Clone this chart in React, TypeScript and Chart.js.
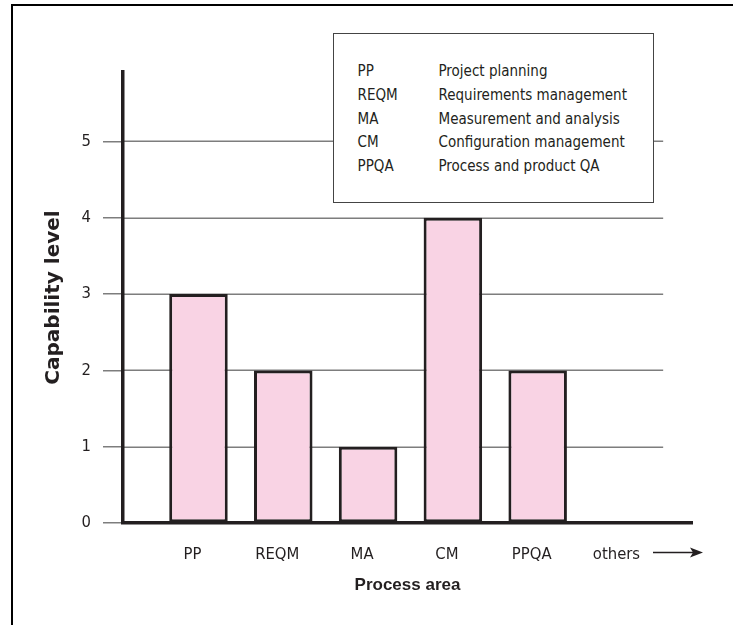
import React, { useEffect, useRef } from "react";
import { Chart, registerables } from "chart.js";

Chart.register(...registerables);

// ---- data ----
const categories = ["PP", "REQM", "MA", "CM", "PPQA", "others"];
const capabilityLevels = [3, 2, 1, 4, 2];
const yTickValues = [0, 1, 2, 3, 4, 5];
const legendAbbrevs = ["PP", "REQM", "MA", "CM", "PPQA"];
const legendNames = [
  "Project planning",
  "Requirements management",
  "Measurement and analysis",
  "Configuration management",
  "Process and product QA",
];

// ---- style ----
const DARK = "#231f20";
const PINK = "#f9d3e4";
const GRID = "#7d7d7d";
const NARROW = "'Liberation Sans Narrow', 'DejaVu Sans Condensed', 'Arial Narrow', sans-serif";
const GRID_END_VALUE = 6.48;

const decorPlugin = {
  id: "decor",
  beforeDatasetsDraw(chart: any) {
    const { ctx, chartArea, scales } = chart;
    const xs = scales.x;
    const ys = scales.y;
    const end = xs.getPixelForValue(GRID_END_VALUE);
    ctx.save();
    ctx.strokeStyle = GRID;
    ctx.lineWidth = 1.5;
    for (const v of yTickValues) {
      const py = Math.round(ys.getPixelForValue(v)) + 0.25;
      ctx.beginPath();
      ctx.moveTo(chartArea.left, py);
      ctx.lineTo(end, py);
      ctx.stroke();
    }
    ctx.restore();
  },
  afterDraw(chart: any) {
    const { ctx, scales } = chart;
    const xs = scales.x;
    const y = xs.top + 29.5;
    const x0 = xs.right - 39;
    const x1 = xs.right + 11;
    ctx.save();
    ctx.strokeStyle = DARK;
    ctx.fillStyle = DARK;
    ctx.lineWidth = 1.4;
    ctx.beginPath();
    ctx.moveTo(x0, y);
    ctx.lineTo(x1 - 8, y);
    ctx.stroke();
    ctx.beginPath();
    ctx.moveTo(x1, y);
    ctx.lineTo(x1 - 13, y - 5);
    ctx.lineTo(x1 - 10, y);
    ctx.lineTo(x1 - 13, y + 5);
    ctx.closePath();
    ctx.fill();
    ctx.restore();
  },
};

export default function App() {
  const ref = useRef<HTMLCanvasElement>(null);

  useEffect(() => {
    const chart = new Chart(ref.current as HTMLCanvasElement, {
      type: "bar",
      data: {
        datasets: [
          {
            data: capabilityLevels.map((v, i) => ({ x: i + 1, y: v })),
            backgroundColor: PINK,
            borderColor: DARK,
            borderWidth: 3,
            borderSkipped: false,
            barPercentage: 0.69,
            categoryPercentage: 1,
          },
        ],
      },
      options: {
        responsive: false,
        animation: false,
        devicePixelRatio: 1,
        layout: { padding: { top: 72, right: 41, bottom: 29.8, left: 0 } },
        plugins: {
          legend: { display: false },
          tooltip: { enabled: false },
        },
        scales: {
          x: {
            type: "linear",
            min: 0.11,
            max: 6.82,
            offset: false,
            afterBuildTicks: (s: any) => {
              s.ticks = categories.map((_, i) => ({ value: i + 1 }));
            },
            grid: {
              display: true,
              drawOnChartArea: false,
              drawTicks: true,
              tickLength: 21.5,
              color: "rgba(0,0,0,0)",
            },
            border: { display: true, color: DARK, width: 3.5, z: 1 },
            ticks: {
              padding: 0,
              labelOffset: -6,
              maxRotation: 0,
              autoSkip: false,
              color: DARK,
              font: { family: NARROW, size: 16.5 },
              callback: (v: any) => categories[Math.round(Number(v)) - 1] ?? "",
            },
            title: {
              display: true,
              text: "Process area",
              color: DARK,
              font: { family: "'Liberation Sans', Arial, sans-serif", size: 17, weight: "bold" },
              padding: { top: 10.5, bottom: 0 },
            },
          },
          y: {
            type: "linear",
            min: 0,
            max: 5.91,
            afterFit: (s: any) => {
              s.width = 123;
            },
            afterBuildTicks: (s: any) => {
              s.ticks = yTickValues.map((v) => ({ value: v }));
            },
            grid: {
              display: true,
              drawOnChartArea: false,
              drawTicks: true,
              tickLength: 20,
              color: GRID,
              lineWidth: 1.5,
            },
            border: { display: true, color: DARK, width: 3.5, z: 1 },
            ticks: {
              padding: 12,
              color: DARK,
              font: { family: NARROW, size: 16.5 },
              callback: (v: any) => String(v),
            },
            title: {
              display: true,
              text: "Capability level",
              color: DARK,
              font: { family: "'DejaVu Sans', sans-serif", size: 20, weight: "bold" },
              padding: { top: 41.5, bottom: 0 },
            },
          },
        },
      } as any,
      plugins: [decorPlugin],
    });
    return () => chart.destroy();
  }, []);

  return (
    <div
      style={{
        position: "fixed",
        left: 0,
        top: 0,
        width: 733,
        height: 625,
        background: "#fff",
        overflow: "hidden",
      }}
    >
      <canvas
        ref={ref}
        width={733}
        height={625}
        style={{ position: "absolute", left: 0, top: 0, width: 733, height: 625 }}
      />
      <div
        style={{
          position: "absolute",
          left: 11,
          top: 4,
          right: -5,
          bottom: -5,
          borderTop: "2px solid #000",
          borderLeft: "2px solid #000",
          pointerEvents: "none",
        }}
      />
      <div
        style={{
          position: "absolute",
          left: 333,
          top: 33,
          width: 321,
          height: 170,
          boxSizing: "border-box",
          border: "1.5px solid #444",
          background: "#fff",
          fontFamily: NARROW,
          fontSize: 15,
          color: DARK,
        }}
      >
        {legendAbbrevs.map((a, i) => (
          <div
            key={a}
            style={{
              position: "absolute",
              left: 0,
              top: 26 + i * 23.75,
              height: 23.75,
              lineHeight: "23.75px",
              width: "100%",
              whiteSpace: "nowrap",
            }}
          >
            <span style={{ position: "absolute", left: 23.5 }}>{a}</span>
            <span style={{ position: "absolute", left: 104.5 }}>{legendNames[i]}</span>
          </div>
        ))}
      </div>
    </div>
  );
}
